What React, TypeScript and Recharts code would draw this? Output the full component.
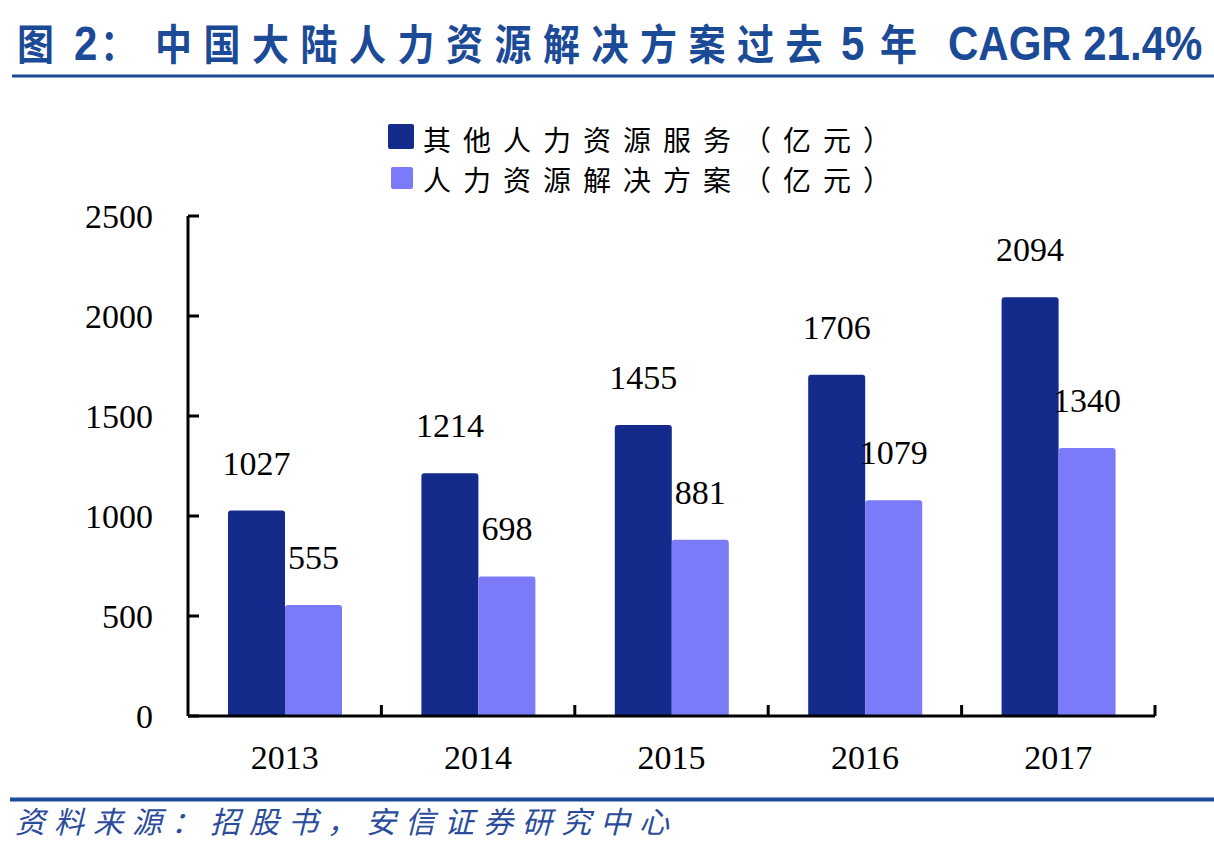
import React from 'react';
import { BarChart, Bar, XAxis, YAxis, LabelList, Legend } from 'recharts';

const categories = ['2013', '2014', '2015', '2016', '2017'];
const otherHRServices = [1027, 1214, 1455, 1706, 2094];
const hrSolutions = [555, 698, 881, 1079, 1340];
const yTicks = [0, 500, 1000, 1500, 2000, 2500];
const seriesNames = ['其他人力资源服务（亿元）', '人力资源解决方案（亿元）'];

const data = categories.map((year, i) => ({
  year,
  other: otherHRServices[i],
  solution: hrSolutions[i],
}));

const DARK = '#142B8C';
const LIGHT = '#7B7BF9';
const BLUE = '#1B4A97';
const SOURCE_BLUE = '#2B4C9B';
const SERIF = '"Liberation Serif", "Times New Roman", serif';
const CJK = '"Noto Sans CJK SC", sans-serif';
const LATIN_BOLD = '"Liberation Sans", Arial, "Noto Sans CJK SC", sans-serif';

const X_TICK_MARGIN = 29;

function XTick(props: any) {
  const { x, y, payload } = props;
  const axisY = y - X_TICK_MARGIN;
  const half = payload && typeof payload.offset === 'number' ? payload.offset : 0;
  return (
    <g>
      <text x={x} y={y + 24} textAnchor="middle" fontSize={34} fontFamily={SERIF} fill="#000">
        {payload.value}
      </text>
      {half > 0 && (
        <line x1={x + half} x2={x + half} y1={axisY} y2={axisY - 11} stroke="#000" strokeWidth={3} />
      )}
    </g>
  );
}

function LegendBox() {
  return (
    <div
      style={{
        position: 'relative',
        width: 520,
        height: 90,
        fontFamily: CJK,
        fontSize: 28,
        letterSpacing: 12,
        color: '#000',
      }}
    >
      <div style={{ position: 'absolute', left: 3, top: 9, width: 26, height: 25, background: DARK, borderRadius: 2 }} />
      <div style={{ position: 'absolute', left: 38, top: 7, height: 34, lineHeight: '34px', whiteSpace: 'nowrap' }}>
        {seriesNames[0]}
      </div>
      <div style={{ position: 'absolute', left: 6, top: 52, width: 22, height: 22, background: LIGHT, borderRadius: 2 }} />
      <div style={{ position: 'absolute', left: 38, top: 47, height: 34, lineHeight: '34px', whiteSpace: 'nowrap' }}>
        {seriesNames[1]}
      </div>
    </div>
  );
}

export default function App() {
  return (
    <div
      style={{
        position: 'absolute',
        left: 0,
        top: 0,
        width: 1214,
        height: 842,
        background: '#fff',
        overflow: 'hidden',
      }}
    >
      <div style={{ position: 'absolute', left: 0, top: 0 }}>
        <BarChart
          width={1214}
          height={842}
          data={data}
          margin={{ top: 216, right: 59, bottom: 66, left: 0 }}
          barSize={57}
          barGap={0}
        >
          <XAxis
            dataKey="year"
            height={60}
            interval={0}
            axisLine={{ stroke: '#000', strokeWidth: 3 }}
            tickLine={false}
            tickSize={0}
            tickMargin={X_TICK_MARGIN}
            tick={<XTick />}
          />
          <YAxis
            width={188}
            domain={[0, 2500]}
            ticks={yTicks}
            interval={0}
            axisLine={{ stroke: '#000', strokeWidth: 3 }}
            tickLine={{ stroke: '#000', strokeWidth: 3 }}
            tickSize={-11}
            tickMargin={46}
            tick={{ fontSize: 34, fontFamily: SERIF, fill: '#000' }}
          />
          <Legend
            layout="vertical"
            align="center"
            verticalAlign="middle"
            wrapperStyle={{ left: 385, top: 115, width: 520, height: 90 }}
            content={() => <LegendBox />}
          />
          <Bar dataKey="other" name={seriesNames[0]} fill={DARK} radius={[3, 3, 0, 0]} isAnimationActive={false}>
            <LabelList
              dataKey="other"
              position="top"
              offset={36}
              style={{ fontSize: 34, fontFamily: SERIF, fill: '#000' }}
            />
          </Bar>
          <Bar dataKey="solution" name={seriesNames[1]} fill={LIGHT} radius={[3, 3, 0, 0]} isAnimationActive={false}>
            <LabelList
              dataKey="solution"
              position="top"
              offset={36}
              style={{ fontSize: 34, fontFamily: SERIF, fill: '#000' }}
            />
          </Bar>
        </BarChart>
      </div>
      <svg
        width={1214}
        height={842}
        style={{ position: 'absolute', left: 0, top: 0, pointerEvents: 'none' }}
      >
        <g transform="translate(0,60) scale(1,1.13)" fill={BLUE} fontWeight="bold">
          <text x={17} y={0} fontFamily={CJK} fontSize={37}>图</text>
          <text x={74} y={0} fontFamily={LATIN_BOLD} fontSize={42}>2</text>
          <text x={100} y={0} fontFamily={CJK} fontSize={37}>：</text>
          <text x={155} y={0} fontFamily={CJK} fontSize={37} letterSpacing={11.5}>
            中国大陆人力资源解决方案过去
          </text>
          <text x={841} y={0} fontFamily={LATIN_BOLD} fontSize={42}>5</text>
          <text x={880} y={0} fontFamily={CJK} fontSize={37}>年</text>
          <text x={948} y={0} fontFamily={LATIN_BOLD} fontSize={42}>CAGR 21.4%</text>
        </g>
        <rect x={12} y={74.5} width={1202} height={3} fill={BLUE} />
        <rect x={10} y={797.5} width={1204} height={4} fill={BLUE} />
        <text
          x={15}
          y={833}
          fontFamily={CJK}
          fontSize={30}
          fontStyle="italic"
          letterSpacing={9}
          fill={SOURCE_BLUE}
        >
          资料来源：招股书，安信证券研究中心
        </text>
      </svg>
    </div>
  );
}
